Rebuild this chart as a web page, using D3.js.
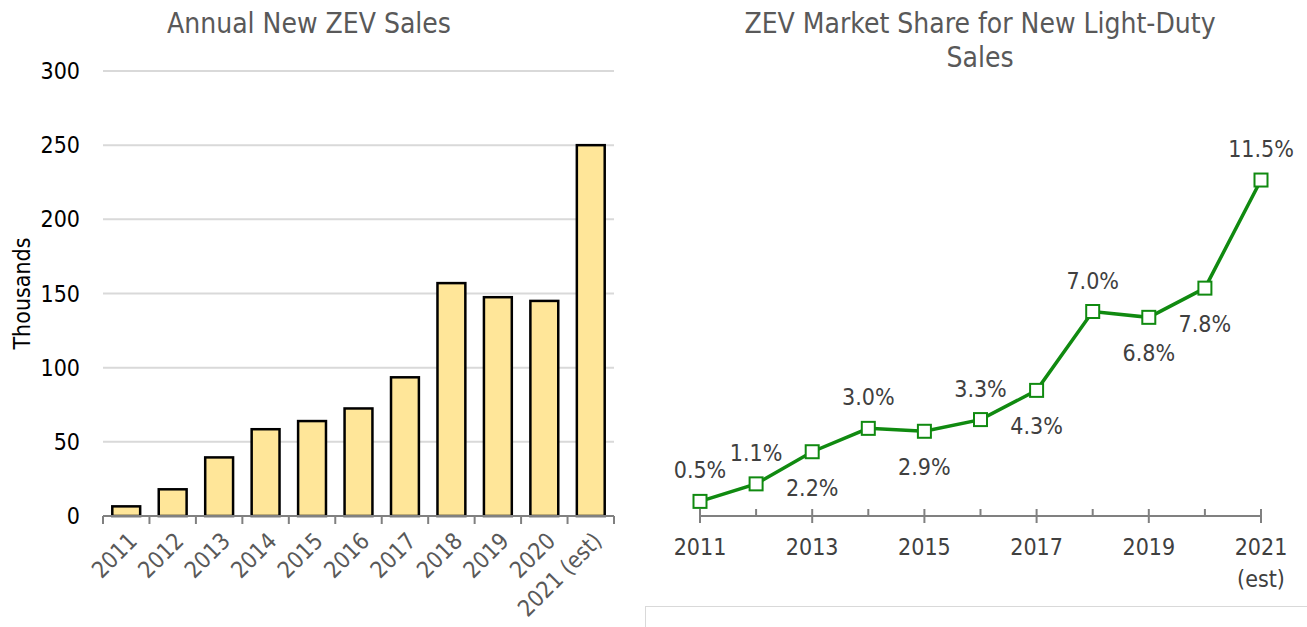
<!DOCTYPE html>
<html>
	<head>
		<meta charset="utf-8" />
		<title>ZEV Sales</title>
		<script src="https://cdn.jsdelivr.net/npm/d3@7"></script>
		<style>
			body {
				margin: 0;
				background: #fff;
				font-family: 'DejaVu Sans Condensed', 'DejaVu Sans', sans-serif;
			}
			svg {
				display: block;
			}
			.title {
				fill: #595959;
				font-size: 28px;
			}
			.grid line {
				stroke: #d9d9d9;
				stroke-width: 2px;
			}
			.bar {
				fill: #ffe699;
				stroke: #000;
				stroke-width: 2.5px;
			}
			.axis-line {
				stroke: #808080;
				stroke-width: 2px;
			}
		</style>
	</head>
	<body>
		<svg id="chart"></svg>
		<script>
			// Annual new ZEV sales (thousands)
			const salesYears = ['2011', '2012', '2013', '2014', '2015', '2016', '2017', '2018', '2019', '2020', '2021 (est)'];
			const salesValues = [6.5, 18, 39.5, 58.5, 64, 72.5, 93.5, 157, 147.5, 145, 250];
			const salesTicks = [0, 50, 100, 150, 200, 250, 300];

			// ZEV market share (%)
			const shareYears = [2011, 2012, 2013, 2014, 2015, 2016, 2017, 2018, 2019, 2020, 2021];
			const shareValues = [0.5, 1.1, 2.2, 3.0, 2.9, 3.3, 4.3, 7.0, 6.8, 7.8, 11.5];
			const shareTickYears = [2011, 2013, 2015, 2017, 2019, 2021];
			const shareLabelSide = ['above', 'above', 'below', 'above', 'below', 'above', 'below', 'above', 'below', 'below', 'above'];

			const width = 1307;
			const height = 627;

			const svg = d3.select('#chart').attr('width', width).attr('height', height);

			// ---------- left: bar chart ----------
			const left = { x0: 103, x1: 614, y0: 516, y1: 71 };

			const x = d3.scaleBand().domain(salesYears).range([left.x0, left.x1]).paddingInner(0.4).paddingOuter(0.2);
			const y = d3.scaleLinear().domain([0, 300]).range([left.y0, left.y1]);

			svg.append('text')
				.attr('class', 'title')
				.attr('x', 309)
				.attr('y', 33)
				.attr('text-anchor', 'middle')
				.text('Annual New ZEV Sales');

			svg.append('g')
				.attr('class', 'grid')
				.selectAll('line')
				.data(salesTicks.slice(1))
				.join('line')
				.attr('x1', left.x0)
				.attr('x2', left.x1)
				.attr('y1', (d) => y(d))
				.attr('y2', (d) => y(d));

			svg.append('g')
				.selectAll('text')
				.data(salesTicks)
				.join('text')
				.attr('x', 80)
				.attr('y', (d) => y(d))
				.attr('dy', '0.35em')
				.attr('text-anchor', 'end')
				.attr('font-size', 23)
				.attr('fill', '#000')
				.text((d) => d);

			svg.append('text')
				.attr('transform', `translate(30,${(left.y0 + left.y1) / 2}) rotate(-90)`)
				.attr('text-anchor', 'middle')
				.attr('font-size', 23)
				.attr('fill', '#000')
				.text('Thousands');

			svg.append('g')
				.selectAll('rect')
				.data(salesValues)
				.join('rect')
				.attr('class', 'bar')
				.attr('x', (d, i) => x(salesYears[i]))
				.attr('width', x.bandwidth())
				.attr('y', (d) => y(d))
				.attr('height', (d) => y(0) - y(d));

			// category axis with ticks at band edges
			const edges = d3.range(salesYears.length + 1).map((i) => left.x0 + i * (left.x1 - left.x0) / salesYears.length);
			const lax = svg.append('g');
			lax.append('line')
				.attr('class', 'axis-line')
				.attr('x1', left.x0)
				.attr('x2', left.x1)
				.attr('y1', left.y0)
				.attr('y2', left.y0);
			lax.selectAll('.tk')
				.data(edges)
				.join('line')
				.attr('class', 'axis-line tk')
				.attr('x1', (d) => d)
				.attr('x2', (d) => d)
				.attr('y1', left.y0)
				.attr('y2', left.y0 + 8);
			lax.selectAll('text')
				.data(salesYears)
				.join('text')
				.attr('transform', (d) => `translate(${x(d) + x.bandwidth() / 2 + 1},${left.y0 + 15}) rotate(-45)`)
				.attr('text-anchor', 'end')
				.attr('dy', '0.7em')
				.attr('font-size', 23)
				.attr('fill', '#595959')
				.text((d) => d);

			// ---------- right: line chart ----------
			const right = { x0: 700, x1: 1261, y0: 516, y1: 107 };

			const x2 = d3.scaleLinear().domain([2011, 2021]).range([right.x0, right.x1]);
			const y2 = d3.scaleLinear().domain([0, 14]).range([right.y0, right.y1]);

			const rt = svg.append('text')
				.attr('class', 'title')
				.attr('x', 980)
				.attr('y', 33)
				.attr('text-anchor', 'middle');
			rt.append('tspan').attr('x', 980).text('ZEV Market Share for New Light-Duty');
			rt.append('tspan').attr('x', 980).attr('dy', 34).text('Sales');

			const rax = svg.append('g');
			rax.append('line')
				.attr('class', 'axis-line')
				.attr('x1', right.x0)
				.attr('x2', right.x1)
				.attr('y1', right.y0)
				.attr('y2', right.y0);
			rax.selectAll('.tk')
				.data(shareYears)
				.join('line')
				.attr('class', 'axis-line tk')
				.attr('x1', (d) => x2(d))
				.attr('x2', (d) => x2(d))
				.attr('y1', (d) => right.y0 - 7)
				.attr('y2', (d) => (shareTickYears.includes(d) ? right.y0 + 7 : right.y0));
			rax.selectAll('.yl')
				.data(shareTickYears)
				.join('text')
				.attr('class', 'yl')
				.attr('x', (d) => x2(d))
				.attr('y', right.y0 + 39)
				.attr('text-anchor', 'middle')
				.attr('font-size', 23)
				.attr('fill', '#404040')
				.text((d) => d);
			rax.append('text')
				.attr('x', x2(2021))
				.attr('y', right.y0 + 71)
				.attr('text-anchor', 'middle')
				.attr('font-size', 23)
				.attr('fill', '#404040')
				.text('(est)');

			const line = d3.line()
				.x((d, i) => x2(shareYears[i]))
				.y((d) => y2(d));

			svg.append('path')
				.datum(shareValues)
				.attr('d', line)
				.attr('fill', 'none')
				.attr('stroke', '#108a10')
				.attr('stroke-width', 3.5);

			svg.append('g')
				.selectAll('rect')
				.data(shareValues)
				.join('rect')
				.attr('x', (d, i) => x2(shareYears[i]) - 6.5)
				.attr('y', (d) => y2(d) - 6.5)
				.attr('width', 13)
				.attr('height', 13)
				.attr('fill', '#fff')
				.attr('stroke', '#108a10')
				.attr('stroke-width', 2);

			svg.append('g')
				.selectAll('text')
				.data(shareValues)
				.join('text')
				.attr('x', (d, i) => x2(shareYears[i]))
				.attr('y', (d, i) => y2(d) + (shareLabelSide[i] === 'above' ? -23 : 44))
				.attr('text-anchor', 'middle')
				.attr('font-size', 23)
				.attr('fill', '#404040')
				.text((d) => d.toFixed(1) + '%');

			// panel border below the line chart
			svg.append('rect')
				.attr('x', 645.5)
				.attr('y', 606.5)
				.attr('width', 680)
				.attr('height', 60)
				.attr('fill', 'none')
				.attr('stroke', '#d9d9d9')
				.attr('stroke-width', 1);
		</script>
	</body>
</html>
